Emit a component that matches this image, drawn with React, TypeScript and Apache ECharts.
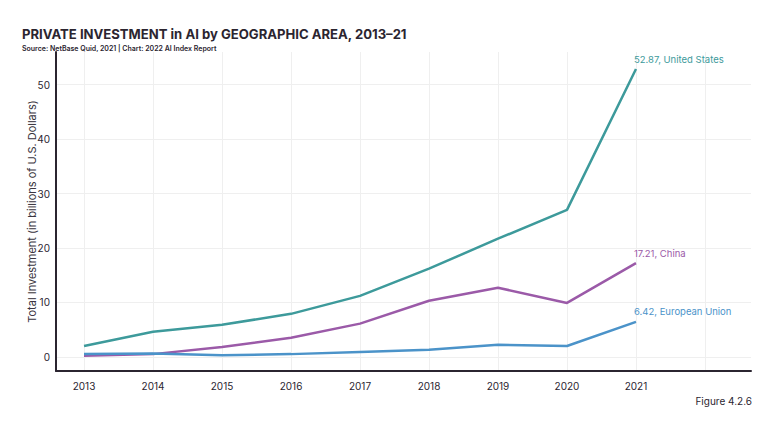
import React, { useEffect, useRef } from "react";
import * as echarts from "echarts";

const years = [2013, 2014, 2015, 2016, 2017, 2018, 2019, 2020, 2021];
const usValues = [2.0, 4.6, 5.9, 7.9, 11.2, 16.2, 21.7, 27.0, 52.87];
const chinaValues = [0.2, 0.5, 1.8, 3.5, 6.1, 10.3, 12.7, 9.9, 17.21];
const euValues = [0.5, 0.6, 0.3, 0.5, 0.9, 1.3, 2.2, 2.0, 6.42];
const yTicks = [0, 10, 20, 30, 40, 50];
const xGridYears = [2013, 2014, 2015, 2016, 2017, 2018, 2019, 2020, 2021, 2022];

const FONT = "Inter, 'Noto Sans', sans-serif";
const DARK = "#2b2530";

export default function App() {
  const ref = useRef<HTMLDivElement>(null);
  useEffect(() => {
    if (!ref.current) return;
    const chart = echarts.init(ref.current, undefined, { renderer: "svg" });
    const mk = (name: string, vals: number[], color: string) => ({
      name,
      type: "line",
      data: years.map((y, i) => [y, vals[i]]),
      showSymbol: false,
      symbol: "none",
      lineStyle: { color, width: 2.5 },
      itemStyle: { color },
      endLabel: {
        show: true,
        formatter: (p: any) => `${p.value[1]}, ${name}`,
        color,
        fontFamily: FONT,
        fontSize: 9.5,
        align: "left",
        offset: [-10, -10],
      },
    });
    chart.setOption({
      animation: false,
      textStyle: { fontFamily: FONT },
      title: [
        {
          text: "PRIVATE INVESTMENT in AI by GEOGRAPHIC AREA, 2013–21",
          left: 9,
          top: 14,
          textStyle: { fontFamily: FONT, fontSize: 13.1, fontWeight: "bold", color: DARK },
        },
        {
          text: "Source: NetBase Quid, 2021 | Chart: 2022 AI Index Report",
          left: 9,
          top: 32,
          textStyle: { fontFamily: FONT, fontSize: 7, fontWeight: 600, color: DARK },
        },
        {
          text: "Figure 4.2.6",
          right: 13,
          top: 383,
          textStyle: { fontFamily: FONT, fontSize: 10, fontWeight: "normal", color: DARK },
        },
      ],
      grid: { left: 48, right: 19, top: 44, bottom: 51, containLabel: false },
      xAxis: {
        type: "value",
        min: 2012.594,
        max: 2022.667,
        axisLine: { show: true, onZero: false, lineStyle: { color: DARK, width: 2 } },
        axisTick: { show: false, customValues: xGridYears },
        axisLabel: {
          customValues: years,
          formatter: (v: number) => String(v),
          color: DARK,
          fontSize: 10,
          fontFamily: FONT,
          margin: 10,
        },
        splitLine: { show: true, lineStyle: { color: "#efefef", width: 1 } },
      },
      yAxis: {
        type: "value",
        min: -2.6,
        max: 56,
        name: "Total Investment (in billions of U.S. Dollars)",
        nameLocation: "middle",
        nameGap: 19,
        nameMoveOverlap: false,
        nameTextStyle: { fontFamily: FONT, fontSize: 11, color: "#3a3540" },
        axisLine: { show: true, onZero: false, lineStyle: { color: DARK, width: 2 } },
        axisTick: { show: false, customValues: yTicks },
        axisLabel: {
          customValues: yTicks,
          color: DARK,
          fontSize: 10,
          fontFamily: FONT,
          margin: 6,
        },
        splitLine: { show: true, lineStyle: { color: "#efefef", width: 1 } },
      },
      series: [
        mk("United States", usValues, "#3d9a9b"),
        mk("China", chinaValues, "#9b5aa8"),
        mk("European Union", euValues, "#4b93c9"),
      ],
    });
    return () => chart.dispose();
  }, []);
  return <div ref={ref} style={{ width: 762, height: 414 }} />;
}
